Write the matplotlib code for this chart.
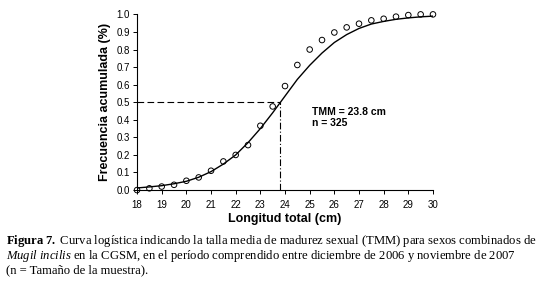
import matplotlib.pyplot as plt
import numpy as np

# observed cumulative frequency (points) and fitted logistic curve values
longitud = [18, 18.5, 19, 19.5, 20, 20.5, 21, 21.5, 22, 22.5, 23, 23.5, 24,
            24.5, 25, 25.5, 26, 26.5, 27, 27.5, 28, 28.5, 29, 29.5, 30]
observado = [0.0, 0.01, 0.02, 0.03, 0.053, 0.072, 0.11, 0.163, 0.2, 0.256,
             0.366, 0.476, 0.592, 0.712, 0.80, 0.854, 0.897, 0.926, 0.947,
             0.966, 0.975, 0.987, 0.996, 1.0, 1.0]
ajustado = [0.012, 0.018, 0.025, 0.036, 0.05, 0.073, 0.105, 0.148, 0.20, 0.27,
            0.35, 0.44, 0.535, 0.63, 0.71, 0.78, 0.84, 0.885, 0.92, 0.945,
            0.96, 0.972, 0.98, 0.986, 0.99]
tmm = 23.8
n = 325

plt.rcParams['font.family'] = 'Liberation Sans'
plt.rcParams['mathtext.fontset'] = 'custom'
plt.rcParams['mathtext.rm'] = 'Liberation Serif'
plt.rcParams['mathtext.it'] = 'Liberation Serif:italic'
plt.rcParams['mathtext.bf'] = 'Liberation Serif:bold'

fig = plt.figure(figsize=(5.46, 2.82), dpi=100)
ax = fig.add_axes([0.251, 0.326, 0.542, 0.623])

ax.plot(longitud, ajustado, color='black', lw=1.0)
ax.scatter(longitud, observado, s=16, facecolors='none', edgecolors='black',
           linewidths=0.7, zorder=3, clip_on=False)
ax.plot([18, tmm], [0.5, 0.5], color='black', lw=0.8, ls=(0, (6, 3)))
ax.plot([tmm, tmm], [0, 0.5], color='black', lw=0.8, ls=(0, (6, 2, 1, 2)))

ax.text(25.1, 0.47, "TMM = 23.8 cm\nn = %d" % n, fontsize=7.5,
        fontweight='bold', va='top', linespacing=1.1)

ax.set_xlim(18, 30)
ax.set_ylim(0, 1.0)
ax.set_xticks(np.arange(18, 31, 1))
ax.set_yticks(np.arange(0, 1.01, 0.1))
ax.set_yticklabels(['%.1f' % v for v in np.arange(0, 1.01, 0.1)])
ax.tick_params(direction='out', length=3, width=0.7, labelsize=7, pad=2)
ax.tick_params(axis='x', pad=4)
for s in ['top', 'right']:
    ax.spines[s].set_visible(False)
for s in ['left', 'bottom']:
    ax.spines[s].set_linewidth(0.8)

ax.set_xlabel('Longitud total (cm)', fontsize=9, fontweight='bold', labelpad=2)
ax.set_ylabel('Frecuencia acumulada (%)', fontsize=9, fontweight='bold', labelpad=4)

caption = [
    r"$\mathbf{Figura\ 7.}$ Curva logística indicando la talla media de madurez sexual (TMM) para sexos combinados de",
    r"$\mathit{Mugil\ incilis}$ en la CGSM, en el período comprendido entre diciembre de 2006 y noviembre de 2007",
    "(n = Tamaño de la muestra).",
]
for i, line in enumerate(caption):
    fig.text(0.011, 1 - (241 + 14.5 * i) / 282, line, fontsize=9.1,
             family='Liberation Serif', va='center')

fig.savefig('out.png', dpi=100)
